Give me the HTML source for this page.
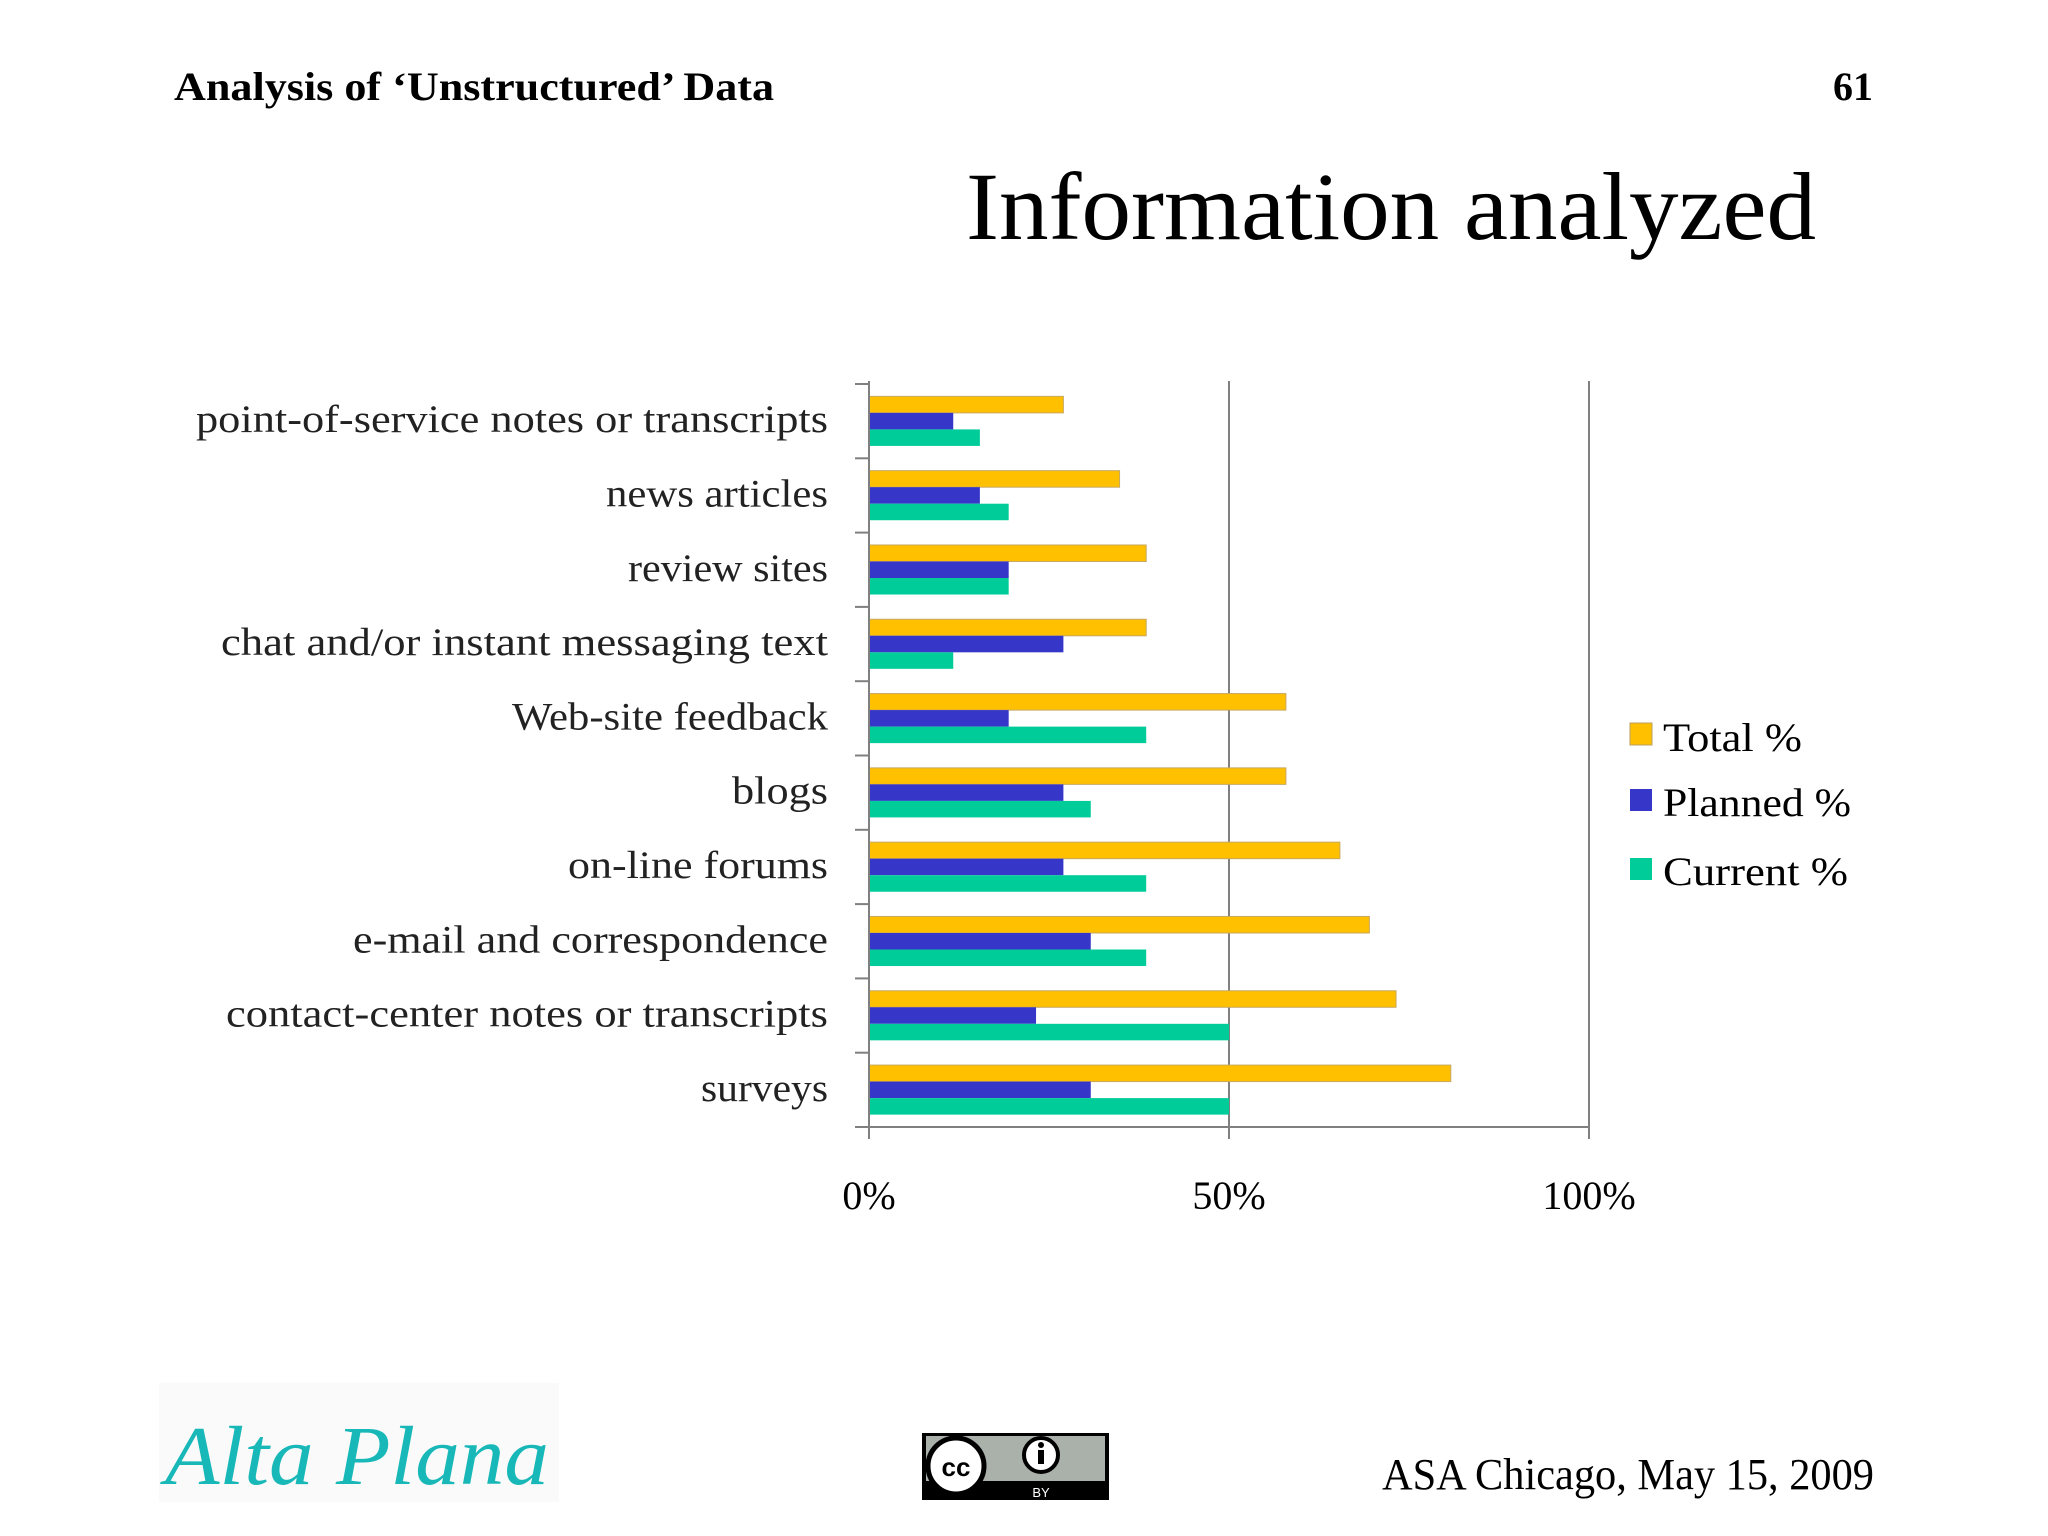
<!DOCTYPE html>
<html><head><meta charset="utf-8"><style>
html,body{margin:0;padding:0;background:#fff;}
svg{display:block;font-family:"Liberation Serif",serif;}
</style></head><body>
<svg id="chart" width="2048" height="1536" viewBox="0 0 2048 1536" xmlns="http://www.w3.org/2000/svg">
<rect width="2048" height="1536" fill="#fff"/>
<text x="174" y="100" font-size="40" font-weight="bold" textLength="600" lengthAdjust="spacingAndGlyphs">Analysis of ‘Unstructured’ Data</text>
<text x="1873" y="100" font-size="40" font-weight="bold" text-anchor="end">61</text>
<text x="966" y="239" font-size="96" textLength="850" lengthAdjust="spacingAndGlyphs">Information analyzed</text>
<g id="plot"></g>
<g>
 <rect x="1630" y="723" width="22" height="22" fill="#ffc000" stroke="#b8a060"/>
 <text x="1663" y="751" font-size="40" textLength="139" lengthAdjust="spacingAndGlyphs">Total %</text>
 <rect x="1630" y="789" width="22" height="22" fill="#3636c8"/>
 <text x="1663" y="816" font-size="40" textLength="188" lengthAdjust="spacingAndGlyphs">Planned %</text>
 <rect x="1630" y="858" width="22" height="22" fill="#00cc99"/>
 <text x="1663" y="885" font-size="40" textLength="185" lengthAdjust="spacingAndGlyphs">Current %</text>
</g>
<rect x="159" y="1383" width="400" height="119" fill="#fafafa"/>
<text x="165" y="1484" font-size="84" font-style="italic" fill="#19b8b8" textLength="384" lengthAdjust="spacingAndGlyphs">Alta Plana</text>
<g>
 <rect x="922" y="1433" width="187" height="67" fill="#000"/>
 <rect x="926" y="1436" width="179" height="45" fill="#aab0aa"/>
 <circle cx="956" cy="1466" r="28" fill="#fff" stroke="#000" stroke-width="5"/>
 <text x="956" y="1476" font-size="26" font-weight="bold" text-anchor="middle" font-family="Liberation Sans,sans-serif">cc</text>
 <circle cx="1041" cy="1455" r="17" fill="#fff" stroke="#000" stroke-width="4"/>
 <rect x="1038" y="1450" width="6" height="14" fill="#000"/>
 <circle cx="1041" cy="1445" r="3" fill="#000"/>
 <text x="1041" y="1497" font-size="13" fill="#fff" text-anchor="middle" font-family="Liberation Sans,sans-serif">BY</text>
</g>
<text x="1874" y="1489" font-size="44" text-anchor="end" textLength="492" lengthAdjust="spacingAndGlyphs">ASA Chicago, May 15, 2009</text>
</svg>
<script>
const categories = ["point-of-service notes or transcripts","news articles","review sites","chat and/or instant messaging text","Web-site feedback","blogs","on-line forums","e-mail and correspondence","contact-center notes or transcripts","surveys"];
const totalValues = [27.0,34.8,38.5,38.5,57.9,57.9,65.4,69.5,73.2,80.8];
const plannedValues = [11.7,15.4,19.4,27.0,19.4,27.0,27.0,30.8,23.2,30.8];
const currentValues = [15.4,19.4,19.4,11.7,38.5,30.8,38.5,38.5,50.0,50.0];
const tickValues = [0,50,100];
const tickLabels = ["0%","50%","100%"];
const labelWidths = [632,222,200,607,316,96,260,475,602,127];

const NS="http://www.w3.org/2000/svg";
const g=document.getElementById('plot');
const X0=869, X1=1589, Y0=384, Y1=1127;
const xs=v=>X0+(v/100)*(X1-X0);
const band=(Y1-Y0)/categories.length;
const ys=i=>Y0+i*band;
function mk(tag,attrs,parent){const e=document.createElementNS(NS,tag);for(const k in attrs)e.setAttribute(k,attrs[k]);(parent||g).appendChild(e);return e;}

tickValues.forEach((v,i)=>{
  if(v>0){const l=mk('line',{x1:xs(v),x2:xs(v),y1:381,y2:Y1,stroke:'#808080','stroke-width':2});
  
  }
  const t=mk('line',{x1:xs(v),x2:xs(v),y1:Y1,y2:Y1+12,stroke:'#808080','stroke-width':2});
  
  
  const tx=mk('text',{x:xs(v),y:1209,'font-size':40,'text-anchor':'middle'});
  tx.textContent=tickLabels[i];
  
  
});
const series=[[totalValues,'#ffc000','total'],[plannedValues,'#3636c8','planned'],[currentValues,'#00cc99','current']];
const bh=band*0.667/3, pad=(band-bh*3)/2;
categories.forEach((c,i)=>{
  series.forEach((s,j)=>{
    const r=mk('rect',{x:X0,y:ys(i)+pad+j*bh,width:xs(s[0][i])-X0,height:bh,fill:s[1],stroke:j==0?'#c8a860':'none','stroke-width':1});
    
    
  });
  const t=mk('text',{x:828,y:ys(i)+band/2+11,'font-size':39,'text-anchor':'end',fill:'#222',textLength:labelWidths[i],lengthAdjust:'spacingAndGlyphs'});
  t.textContent=c;
  
  
});
for(let i=0;i<=categories.length;i++){
  const t=mk('line',{x1:X0-14,x2:X0,y1:ys(i),y2:ys(i),stroke:'#808080','stroke-width':2});
  
  
}
const ya=mk('line',{x1:X0,x2:X0,y1:381,y2:Y1+12,stroke:'#808080','stroke-width':2});


const xa=mk('line',{x1:X0,x2:X1,y1:Y1,y2:Y1,stroke:'#808080','stroke-width':2});


</script>
</body></html>
